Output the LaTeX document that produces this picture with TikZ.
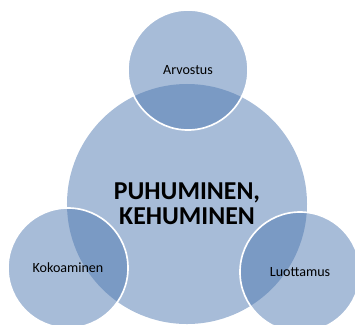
\documentclass[tikz,border=0pt]{standalone}
\usepackage{fontspec}
\setmainfont{Carlito}
\usepackage{tikz}
\usetikzlibrary{positioning}
\definecolor{bubbleblue}{RGB}{79,121,177}
\tikzset{
    bigbubble/.style={circle, fill=bubbleblue, fill opacity=0.5, text opacity=1, minimum size=7.2cm, inner sep=0pt, outer sep=0pt, font=\fontsize{22}{21}\selectfont\bfseries, align=center},
    smallbubble/.style={circle, fill=bubbleblue, fill opacity=0.5, draw=white, draw opacity=1, line width=1.4pt, text opacity=1, minimum size=3.6cm, inner sep=0pt, outer sep=0pt, font=\fontsize{12}{13}\selectfont},
}
\begin{document}
\begin{tikzpicture}[x=0.03cm, y=-0.03cm]
    \useasboundingbox (0,0) rectangle (355,324);
    \clip (0,0) rectangle (355,324);
    % Center
    \node[bigbubble] (center) at (187,204) {PUHUMINEN,\\KEHUMINEN};
    % Around
    \node[smallbubble] (arvostus) at (188,70) {Arvostus};
    \node[smallbubble] (kokoaminen) at (68,268) {Kokoaminen};
    \node[smallbubble] (luottamus) at (300,272) {Luottamus};
\end{tikzpicture}
\end{document}
